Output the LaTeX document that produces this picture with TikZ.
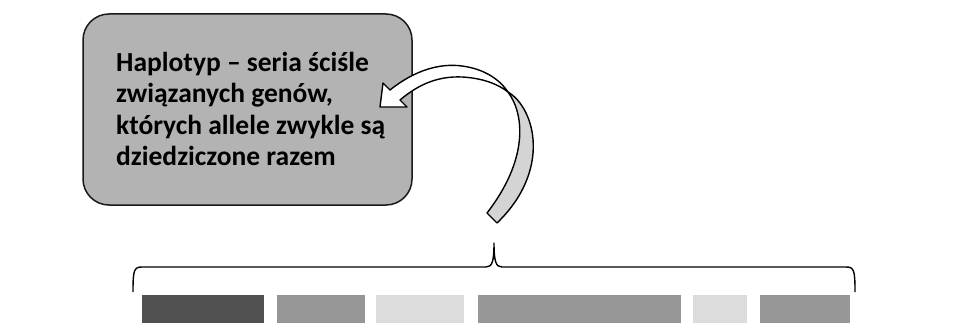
\documentclass[tikz,border=0pt]{standalone}
\usepackage{fontspec}
\setmainfont{Carlito}
\definecolor{calloutgray}{HTML}{B3B3B3}
\definecolor{ribbonback}{HTML}{D4D4D4}
\definecolor{genedark}{HTML}{505050}
\definecolor{genemid}{HTML}{969696}
\definecolor{genelight}{HTML}{DCDCDC}
\begin{document}
\begin{tikzpicture}[x=1pt,y=-1pt,line join=round,
  callout/.style={draw=black!90,fill=calloutgray,line width=1.5pt,rounded corners=26pt},
  label/.style={font=\bfseries\fontsize{27.5}{31.5}\selectfont,align=left,inner sep=0pt},
  gene/.style={fill=#1,draw=none},
  ribbon/.style={draw=black,line width=1.4pt},
  bracket/.style={draw=black,line width=1.4pt}]
\useasboundingbox (0,0) rectangle (957,323);

% haplotype description box (base anchor sits on the last line)
\draw[callout] (83,14) rectangle (412,205);
\node[label,anchor=base west] (desc) at (116,166)
  {Haplotyp – seria ściśle\\związanych genów,\\których allele zwykle są\\dziedziczone razem};

% curved ribbon arrow: grey back face first, then the white front with the head
\coordinate (cross) at (508,92);
\coordinate (tailA) at (487,213);
\coordinate (tailB) at (497,223);
\coordinate (headA) at (390,90);
\coordinate (headB) at (400,100);
\coordinate (barbA) at (383,83);
\coordinate (barbB) at (407,107);
\coordinate (tip) at (380,107);
\path[ribbon,fill=ribbonback]
  (cross) .. controls (535,108) and (552,170) .. (tailB) -- (tailA)
  .. controls (528,160) and (525,115) .. (cross) -- cycle;
\path[ribbon,fill=white]
  (headA) -- (barbA) -- (tip) -- (barbB) -- (headB)
  .. controls (420,83) and (440,76) .. (462,77)
  .. controls (482,78) and (498,84) .. (cross)
  .. controls (500,80) and (485,69) .. (462,66)
  .. controls (440,63) and (415,70) .. (headA) -- cycle;

% brace over the gene blocks
\coordinate (braceL) at (133,292);
\coordinate (braceR) at (855,292);
\coordinate (braceTip) at (494,243);
\draw[bracket] (braceL) .. controls (133,270) and (134,267) .. (142,267)
  -- (486,267) .. controls (492,267) and (494,262) .. (braceTip)
  .. controls (494,262) and (496,267) .. (502,267)
  -- (846,267) .. controls (854,267) and (855,270) .. (braceR);

% gene blocks
\fill[gene=genedark]  (142,295) rectangle (264,323);
\fill[gene=genemid]   (277,295) rectangle (365,323);
\fill[gene=genelight] (376,295) rectangle (464,323);
\fill[gene=genemid]   (478,295) rectangle (681,323);
\fill[gene=genelight] (693,295) rectangle (747,323);
\fill[gene=genemid]   (760,295) rectangle (850,323);
\end{tikzpicture}
\end{document}
